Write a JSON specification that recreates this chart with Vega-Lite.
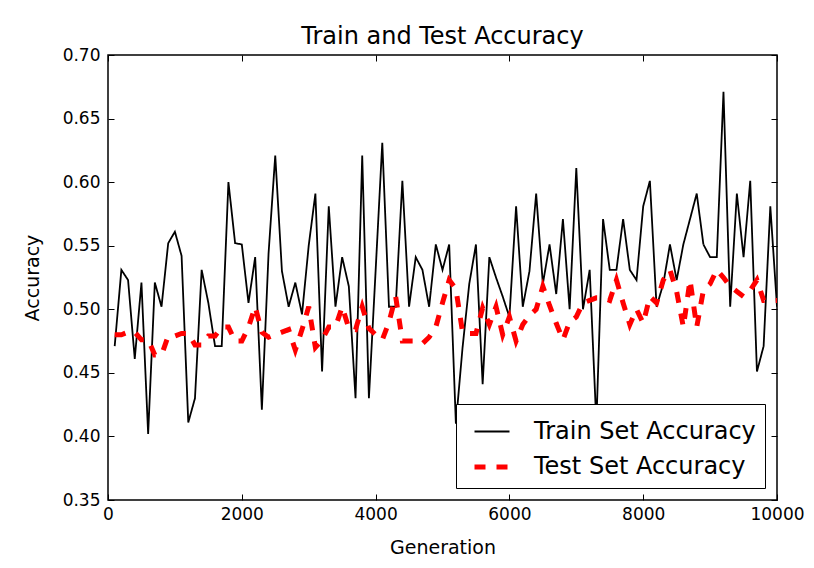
{
  "$schema": "https://vega.github.io/schema/vega-lite/v6.json",
  "autosize": "none",
  "width": 669,
  "height": 445,
  "padding": {"left": 108, "top": 55, "right": 37, "bottom": 68},
  "background": "white",
  "title": {"text": "Train and Test Accuracy", "fontSize": 24, "fontWeight": "normal", "font": "DejaVu Sans", "color": "black", "offset": -3},
  "config": {
    "view": {"stroke": "black", "strokeWidth": 1.5},
    "axis": {"grid": false, "domain": false, "labelFlush": false, "tickColor": "black", "tickSize": -6, "tickWidth": 1, "labelFont": "DejaVu Sans", "labelFontSize": 17, "labelColor": "black", "titleFont": "DejaVu Sans", "titleFontSize": 19, "titleFontWeight": "normal", "titleColor": "black"},
    "legend": {"labelFont": "DejaVu Sans", "labelFontSize": 24, "labelColor": "black", "orient": "bottom-right", "offset": 12, "padding": 9, "symbolOffset": 7, "strokeColor": "black", "fillColor": "white", "symbolType": "stroke", "symbolSize": 1225, "labelOffset": 22, "rowPadding": 3, "cornerRadius": 0, "labelLimit": 400}
  },
  "datasets": {
    "train": [
      {"gen":100,"acc":0.471},{"gen":200,"acc":0.531},{"gen":300,"acc":0.523},{"gen":400,"acc":0.461},{"gen":500,"acc":0.521},
      {"gen":600,"acc":0.402},{"gen":700,"acc":0.521},{"gen":800,"acc":0.502},{"gen":900,"acc":0.552},{"gen":1000,"acc":0.561},
      {"gen":1100,"acc":0.542},{"gen":1200,"acc":0.411},{"gen":1300,"acc":0.430},{"gen":1400,"acc":0.531},{"gen":1500,"acc":0.505},
      {"gen":1600,"acc":0.471},{"gen":1700,"acc":0.471},{"gen":1800,"acc":0.600},{"gen":1900,"acc":0.552},{"gen":2000,"acc":0.551},
      {"gen":2100,"acc":0.505},{"gen":2200,"acc":0.541},{"gen":2300,"acc":0.421},{"gen":2400,"acc":0.544},{"gen":2500,"acc":0.621},
      {"gen":2600,"acc":0.530},{"gen":2700,"acc":0.502},{"gen":2800,"acc":0.521},{"gen":2900,"acc":0.496},{"gen":3000,"acc":0.550},
      {"gen":3100,"acc":0.591},{"gen":3200,"acc":0.451},{"gen":3300,"acc":0.581},{"gen":3400,"acc":0.502},{"gen":3500,"acc":0.541},
      {"gen":3600,"acc":0.518},{"gen":3700,"acc":0.430},{"gen":3800,"acc":0.621},{"gen":3900,"acc":0.430},{"gen":4000,"acc":0.530},
      {"gen":4100,"acc":0.631},{"gen":4200,"acc":0.502},{"gen":4300,"acc":0.502},{"gen":4400,"acc":0.601},{"gen":4500,"acc":0.502},
      {"gen":4600,"acc":0.541},{"gen":4700,"acc":0.531},{"gen":4800,"acc":0.502},{"gen":4900,"acc":0.551},{"gen":5000,"acc":0.531},
      {"gen":5100,"acc":0.551},{"gen":5200,"acc":0.410},{"gen":5300,"acc":0.470},{"gen":5400,"acc":0.520},{"gen":5500,"acc":0.551},
      {"gen":5600,"acc":0.441},{"gen":5700,"acc":0.541},{"gen":5800,"acc":0.525},{"gen":5900,"acc":0.510},{"gen":6000,"acc":0.494},
      {"gen":6100,"acc":0.581},{"gen":6200,"acc":0.502},{"gen":6300,"acc":0.530},{"gen":6400,"acc":0.591},{"gen":6500,"acc":0.520},
      {"gen":6600,"acc":0.551},{"gen":6700,"acc":0.512},{"gen":6800,"acc":0.571},{"gen":6900,"acc":0.500},{"gen":7000,"acc":0.611},
      {"gen":7100,"acc":0.500},{"gen":7200,"acc":0.531},{"gen":7300,"acc":0.410},{"gen":7400,"acc":0.571},{"gen":7500,"acc":0.531},
      {"gen":7600,"acc":0.531},{"gen":7700,"acc":0.571},{"gen":7800,"acc":0.531},{"gen":7900,"acc":0.523},{"gen":8000,"acc":0.581},
      {"gen":8100,"acc":0.601},{"gen":8200,"acc":0.502},{"gen":8300,"acc":0.520},{"gen":8400,"acc":0.551},{"gen":8500,"acc":0.523},
      {"gen":8600,"acc":0.551},{"gen":8700,"acc":0.571},{"gen":8800,"acc":0.591},{"gen":8900,"acc":0.551},{"gen":9000,"acc":0.541},
      {"gen":9100,"acc":0.541},{"gen":9200,"acc":0.671},{"gen":9300,"acc":0.502},{"gen":9400,"acc":0.591},{"gen":9500,"acc":0.541},
      {"gen":9600,"acc":0.601},{"gen":9700,"acc":0.451},{"gen":9800,"acc":0.471},{"gen":9900,"acc":0.581},{"gen":10000,"acc":0.502}
    ],
    "test": [
      {"gen":100,"acc":0.480},{"gen":200,"acc":0.480},{"gen":300,"acc":0.482},{"gen":400,"acc":0.482},{"gen":500,"acc":0.476},
      {"gen":600,"acc":0.476},{"gen":700,"acc":0.464},{"gen":800,"acc":0.464},{"gen":900,"acc":0.479},{"gen":1000,"acc":0.479},
      {"gen":1100,"acc":0.481},{"gen":1200,"acc":0.481},{"gen":1300,"acc":0.472},{"gen":1400,"acc":0.472},{"gen":1500,"acc":0.479},
      {"gen":1600,"acc":0.479},{"gen":1700,"acc":0.486},{"gen":1800,"acc":0.486},{"gen":1900,"acc":0.475},{"gen":2000,"acc":0.475},
      {"gen":2100,"acc":0.486},{"gen":2200,"acc":0.502},{"gen":2300,"acc":0.482},{"gen":2400,"acc":0.478},{"gen":2500,"acc":0.480},
      {"gen":2600,"acc":0.482},{"gen":2700,"acc":0.484},{"gen":2800,"acc":0.468},{"gen":2900,"acc":0.484},{"gen":3000,"acc":0.502},
      {"gen":3100,"acc":0.470},{"gen":3200,"acc":0.476},{"gen":3300,"acc":0.486},{"gen":3400,"acc":0.486},{"gen":3500,"acc":0.502},
      {"gen":3600,"acc":0.485},{"gen":3700,"acc":0.484},{"gen":3800,"acc":0.502},{"gen":3900,"acc":0.485},{"gen":4000,"acc":0.480},
      {"gen":4100,"acc":0.476},{"gen":4200,"acc":0.490},{"gen":4300,"acc":0.510},{"gen":4400,"acc":0.475},{"gen":4500,"acc":0.475},
      {"gen":4600,"acc":0.475},{"gen":4700,"acc":0.473},{"gen":4800,"acc":0.478},{"gen":4900,"acc":0.486},{"gen":5000,"acc":0.505},
      {"gen":5100,"acc":0.523},{"gen":5200,"acc":0.516},{"gen":5300,"acc":0.482},{"gen":5400,"acc":0.481},{"gen":5500,"acc":0.481},
      {"gen":5600,"acc":0.501},{"gen":5700,"acc":0.488},{"gen":5800,"acc":0.502},{"gen":5900,"acc":0.480},{"gen":6000,"acc":0.494},
      {"gen":6100,"acc":0.475},{"gen":6200,"acc":0.488},{"gen":6300,"acc":0.495},{"gen":6400,"acc":0.500},{"gen":6500,"acc":0.518},
      {"gen":6600,"acc":0.503},{"gen":6700,"acc":0.489},{"gen":6800,"acc":0.476},{"gen":6900,"acc":0.490},{"gen":7000,"acc":0.494},
      {"gen":7100,"acc":0.505},{"gen":7200,"acc":0.507},{"gen":7300,"acc":0.509},{"gen":7400,"acc":0.509},{"gen":7500,"acc":0.507},
      {"gen":7600,"acc":0.523},{"gen":7700,"acc":0.505},{"gen":7800,"acc":0.488},{"gen":7900,"acc":0.500},{"gen":8000,"acc":0.489},
      {"gen":8100,"acc":0.510},{"gen":8200,"acc":0.505},{"gen":8300,"acc":0.523},{"gen":8400,"acc":0.531},{"gen":8500,"acc":0.514},
      {"gen":8600,"acc":0.486},{"gen":8700,"acc":0.523},{"gen":8800,"acc":0.486},{"gen":8900,"acc":0.515},{"gen":9000,"acc":0.520},
      {"gen":9100,"acc":0.531},{"gen":9200,"acc":0.525},{"gen":9300,"acc":0.518},{"gen":9400,"acc":0.514},{"gen":9500,"acc":0.510},
      {"gen":9600,"acc":0.515},{"gen":9700,"acc":0.523},{"gen":9800,"acc":0.507},{"gen":9900,"acc":0.507},{"gen":10000,"acc":0.507}
    ]
  },
  "layer": [
    {
      "data": {"name": "train"},
      "mark": {"type": "line", "clip": true},
      "encoding": {
        "x": {"field": "gen", "type": "quantitative", "scale": {"domain": [0, 10000], "nice": false}, "axis": {"title": "Generation", "values": [0, 2000, 4000, 6000, 8000, 10000], "format": "d", "labelPadding": 12, "titlePadding": 16}},
        "y": {"field": "acc", "type": "quantitative", "scale": {"domain": [0.35, 0.70], "nice": false, "zero": false}, "axis": {"title": "Accuracy", "values": [0.35, 0.40, 0.45, 0.50, 0.55, 0.60, 0.65, 0.70], "format": ".2f", "labelPadding": 14, "titlePadding": 20}},
        "color": {"datum": "Train Set Accuracy", "type": "nominal", "scale": {"domain": ["Train Set Accuracy", "Test Set Accuracy"], "range": ["black", "red"]}, "title": null},
        "strokeDash": {"datum": "Train Set Accuracy", "type": "nominal", "scale": {"domain": ["Train Set Accuracy", "Test Set Accuracy"], "range": [[1, 0], [11, 11]]}, "title": null},
        "strokeWidth": {"datum": "Train Set Accuracy", "type": "ordinal", "scale": {"domain": ["Train Set Accuracy", "Test Set Accuracy"], "range": [1.8, 5]}, "title": null}
      }
    },
    {
      "data": {"name": "test"},
      "mark": {"type": "line", "clip": true},
      "encoding": {
        "x": {"field": "gen", "type": "quantitative", "axis": null},
        "y": {"field": "acc", "type": "quantitative", "axis": null},
        "color": {"datum": "Test Set Accuracy", "type": "nominal", "title": null},
        "strokeDash": {"datum": "Test Set Accuracy", "type": "nominal", "title": null},
        "strokeWidth": {"datum": "Test Set Accuracy", "type": "ordinal", "title": null}
      }
    },
    {
      "data": {"name": "train"},
      "mark": {"type": "point", "opacity": 0},
      "encoding": {
        "x": {"field": "gen", "type": "quantitative", "axis": {"orient": "top", "labels": false, "title": null, "values": [0, 2000, 4000, 6000, 8000, 10000]}},
        "y": {"field": "acc", "type": "quantitative", "axis": {"orient": "right", "labels": false, "title": null, "values": [0.35, 0.40, 0.45, 0.50, 0.55, 0.60, 0.65, 0.70]}}
      }
    }
  ],
  "resolve": {"axis": {"x": "independent", "y": "independent"}}
}
